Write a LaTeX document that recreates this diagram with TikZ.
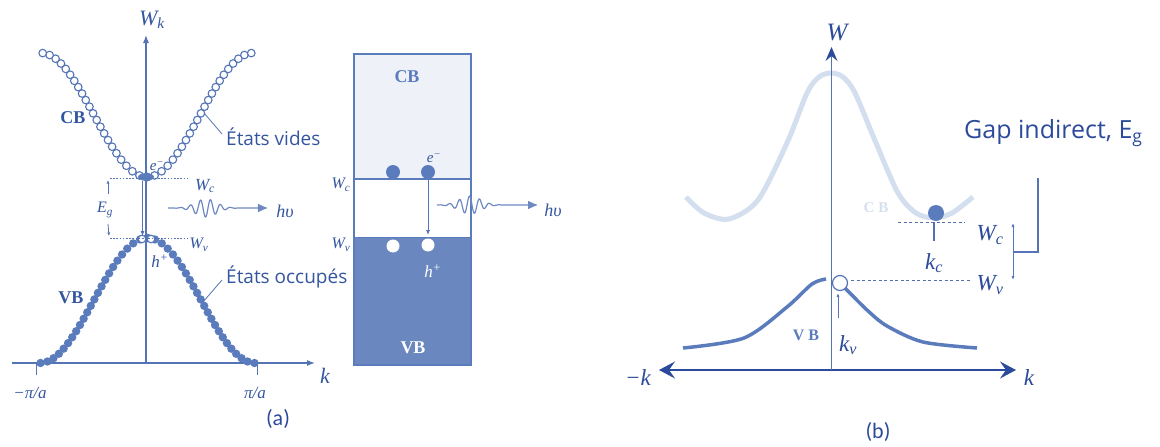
\documentclass[tikz,border=0pt]{standalone}
\usepackage{fontspec}
\setmainfont{Liberation Serif}
\newfontfamily\handfont{Open Sans}
\newfontfamily\capfont{Carlito}
\usetikzlibrary{arrows.meta}
\definecolor{navy}{HTML}{2B4A9B}
\definecolor{axblue}{HTML}{5474B6}
\definecolor{dotblue}{HTML}{5B7CBC}
\definecolor{cbfill}{HTML}{EEF2F8}
\definecolor{vbfill}{HTML}{6A88BF}
\definecolor{cbcurve}{HTML}{D3DEEE}
\definecolor{txtblue}{HTML}{34559F}
\definecolor{cblabel}{HTML}{D6E0EF}
\newcommand{\setfs}[1]{\fontsize{#1}{#1}\selectfont}
\begin{document}
\begin{tikzpicture}[x=1pt,y=-1pt,
  axline/.style={draw=axblue, line width=1.1pt},
  thinline/.style={draw=axblue, line width=0.8pt},
  dotline/.style={draw=axblue, line width=0.9pt, dash pattern=on 1.6pt off 1.6pt},
  dashline/.style={draw=navy!80, line width=1pt, dash pattern=on 3pt off 2.5pt},
  wave/.style={draw=axblue!85, line width=1.2pt},
  opendot/.style={draw=axblue, line width=1.1pt, fill=white},
  filldot/.style={fill=dotblue},
  lab/.style={text=txtblue, inner sep=0pt, font=\itshape\setfs{17}},
  blab/.style={text=txtblue, inner sep=0pt, font=\bfseries\setfs{18}},
  hand/.style={text=txtblue, inner sep=0pt, font=\handfont\setfs{19}, anchor=west},
  caplab/.style={text=navy, inner sep=0pt, font=\capfont\setfs{22}},
  baxis/.style={draw=navy, line width=1.3pt},
  blab2/.style={text=navy, inner sep=0pt, font=\itshape\setfs{23}},
]
\useasboundingbox[fill=white] (0,0) rectangle (1160,447);

% ================= (a) dispersion =================
\coordinate (kL) at (12,363);
\coordinate (kR) at (315,363);
\coordinate (wB) at (146,363);
\coordinate (wT) at (146,35);
\draw[axline,-{Latex[length=8pt,width=6pt]}] (kL) -- (kR);
\node[lab,font=\itshape\setfs{22}] (Wk) at (152,20) {W\textsubscript{k}};
\node[lab,font=\itshape\setfs{22}] (klab) at (325,376) {k};
\coordinate (t1a) at (36,363); \coordinate (t1b) at (36,375);
\coordinate (t2a) at (257,363); \coordinate (t2b) at (257,375);
\draw[thinline] (t1a) -- (t1b);
\draw[thinline] (t2a) -- (t2b);
\node[lab,font=\itshape\setfs{17}] (mpa) at (30,393) {−π/a};
\node[lab,font=\itshape\setfs{17}] (ppa) at (255,393) {π/a};

% CB open circles (equal arc spacing, mirrored)
\xdef\th{0}
\foreach \i in {1,...,40}{
  \ifdim\th pt<181pt
    \pgfmathsetmacro\ddx{\th/180*106}
    \pgfmathsetmacro\ppy{115+62*cos(\th)}
    \draw[opendot] (147-\ddx,\ppy) circle (3.8pt);
    \draw[opendot] (147+\ddx,\ppy) circle (3.8pt);
    \pgfmathsetmacro\nth{\th+7.6/106*180/sqrt(1+3.376*sin(\th)*sin(\th))}
    \xdef\th{\nth}
  \fi
}
% VB filled circles
\xdef\th{0}
\foreach \i in {1,...,40}{
  \ifdim\th pt<181pt
    \pgfmathsetmacro\ddx{\th/180*107.5}
    \pgfmathsetmacro\ppy{300.5-62.5*cos(\th)}
    \fill[filldot] (147.5-\ddx,\ppy) circle (4.2pt);
    \fill[filldot] (147.5+\ddx,\ppy) circle (4.2pt);
    \pgfmathsetmacro\nth{\th+7.4/107.5*180/sqrt(1+3.335*sin(\th)*sin(\th))}
    \xdef\th{\nth}
  \fi
}
\draw[axline,-{Latex[length=8pt,width=6pt]}] (wB) -- (wT);

% electron at CB min, holes at VB max
\fill[dotblue] (146,177) ellipse (8pt and 3.8pt);
\draw[opendot] (142,239) circle (3.8pt);
\draw[opendot] (151,239) circle (3.8pt);

% levels
\coordinate (wcL) at (110,178); \coordinate (wcR) at (190,178);
\coordinate (wvL) at (110,238); \coordinate (wvR) at (190,238);
\draw[dotline] (wcL) -- (wcR);
\draw[dotline] (wvL) -- (wvR);
\node[lab] (Wca) at (205,186) {W\textsubscript{c}};
\node[lab,font=\itshape\setfs{16}] (Wva) at (199,245) {W\textsubscript{v}};
\node[lab,font=\itshape\setfs{15}] (ea) at (157,166) {e\textsuperscript{−}};
\node[lab,font=\itshape\setfs{17}] (ha) at (160,261) {h\textsuperscript{+}};
% Eg
\coordinate (eg1) at (108,194); \coordinate (eg1t) at (108,180);
\coordinate (eg2) at (108,224); \coordinate (eg2t) at (109,236);
\draw[thinline,-{Latex[length=3.5pt,width=3pt]}] (eg1) -- (eg1t);
\draw[thinline,-{Latex[length=3.5pt,width=3pt]}] (eg2) -- (eg2t);
\node[lab,font=\itshape\setfs{16}] (Ega) at (105,210) {E\textsubscript{g}};
% transition
\coordinate (tra) at (142.5,181); \coordinate (trb) at (142.5,236);
\draw[thinline,-{Latex[length=5pt,width=4pt]}] (tra) -- (trb);
% photon
\draw[wave,-{Triangle[length=9pt,width=8pt]}] plot[domain=0:99,samples=220] ({\x+168},{208-9*exp(-((\x-38)/15)*((\x-38)/15))*sin(36*\x)});
\node[lab,font=\itshape\setfs{18}] (hva) at (285,211) {hυ};
% band names and comments
\node[blab] (CBa) at (73,118) {CB};
\node[blab] (VBa) at (71,298) {VB};
\node[hand] (vides) at (226,137) {États vides};
\node[hand] (occ) at (226,277) {États occupés};
\coordinate (vd0) at (222,134); \coordinate (vd1) at (204,113);
\coordinate (oc0) at (222,280); \coordinate (oc1) at (203,302);
\draw[thinline] (vd0) -- (vd1);
\draw[thinline] (oc0) -- (oc1);
\node[caplab] (capa) at (278,419) {(a)};

% ================= (a) band box =================
\fill[cbfill] (354,54) rectangle (471,179);
\fill[vbfill] (354,237) rectangle (471,365);
\draw[draw=dotblue, line width=1.2pt] (354,54) rectangle (471,365);
\draw[draw=dotblue, line width=1.2pt] (354,179) -- (471,179);
\draw[draw=dotblue, line width=1pt] (354,237) -- (471,237);
\node[blab,text=dotblue,font=\bfseries\setfs{18}] (CBb) at (407,77) {CB};
\node[blab,text=white,font=\bfseries\setfs{18}] (VBb) at (413,348) {VB};
\fill[dotblue] (393,172) circle (7pt);
\fill[dotblue] (428,172) circle (7pt);
\fill[white] (393,246) circle (6.5pt);
\fill[white] (428,245) circle (6.5pt);
\node[lab,font=\itshape\setfs{15}] (eb) at (434,158) {e\textsuperscript{−}};
\node[lab,text=white,font=\itshape\setfs{17}] (hb) at (433,271) {h\textsuperscript{+}};
\node[lab,font=\itshape\setfs{16}] (Wcb) at (341,185) {W\textsubscript{c}};
\node[lab,font=\itshape\setfs{16}] (Wvb) at (341,245) {W\textsubscript{v}};
\coordinate (trc) at (428,180); \coordinate (trd) at (428,235);
\draw[thinline,-{Latex[length=5pt,width=4pt]}] (trc) -- (trd);
\draw[wave,-{Triangle[length=9pt,width=8pt]}] plot[domain=0:100,samples=220] ({\x+437},{205-9*exp(-((\x-33)/15)*((\x-33)/15))*sin(36*\x)});
\node[lab,font=\itshape\setfs{18}] (hvb) at (553,210) {hυ};

% ================= (b) =================
\draw[draw=cbcurve, line width=5pt, line join=round] plot[smooth, tension=0.5] coordinates {(686,197) (704,213) (729,219) (758,200) (787,143) (807,93) (819,77) (831,73) (843,77) (855,93) (876,143) (898,193) (916,213) (934,218) (952,213) (973,197)};
\draw[draw=dotblue, line width=3.5pt] plot[smooth, tension=0.5] coordinates {(683,348) (744,338) (787,307) (812,284) (826,279)};
\draw[draw=dotblue, line width=3.5pt] plot[smooth, tension=0.5] coordinates {(845,288) (867,310) (887,326) (923,342) (977,348)};

\coordinate (bkL) at (659,370); \coordinate (bkR) at (1016,370);
\coordinate (bwB) at (831.5,370); \coordinate (bwT) at (831.5,47);
\draw[baxis,{Stealth[length=16pt,width=17pt,inset=6pt]}-{Stealth[length=16pt,width=17pt,inset=6pt]}] (bkL) -- (bkR);
\draw[axline,-{Stealth[length=14pt,width=12pt,inset=5pt,color=navy]}] (bwB) -- (bwT);
\node[blab2,font=\itshape\setfs{25}] (Wb) at (837,33) {W};
\node[blab2] (mk) at (638,378) {−k};
\node[blab2] (pk) at (1029,378) {k};

\draw[draw=axblue, line width=1.2pt, fill=white] (840,283) circle (7.5pt);
\fill[dotblue] (936,213) circle (8pt);
\coordinate (kcs1) at (934,222); \coordinate (kcs2) at (934,241);
\draw[draw=navy!80, line width=1.2pt] (kcs1) -- (kcs2);
\coordinate (bwc1) at (898,222); \coordinate (bwc2) at (965,222);
\coordinate (bwv1) at (851,280); \coordinate (bwv2) at (970,280);
\draw[dashline] (bwc1) -- (bwc2);
\draw[dashline] (bwv1) -- (bwv2);
\coordinate (kv1) at (838,318); \coordinate (kv2) at (838,293);
\draw[thinline,-{Latex[length=4pt,width=3pt]}] (kv1) -- (kv2);
\node[blab2] (kcb) at (934,263) {k\textsubscript{c}};
\node[blab2] (kvb) at (848,345) {k\textsubscript{v}};
\node[blab2] (Wcc) at (990,235) {W\textsubscript{c}};
\node[blab2] (Wvc) at (990,285) {W\textsubscript{v}};
\node[blab,text=cblabel,font=\bfseries\setfs{15}] (CBc) at (876,208) {C B};
\node[blab,text=dotblue,font=\bfseries\setfs{16}] (VBc) at (806,335) {V B};

\coordinate (ga1) at (1013,223); \coordinate (ga2) at (1013,280);
\draw[thinline,{Latex[length=4pt,width=3pt]}-{Latex[length=4pt,width=3pt]}] (ga1) -- (ga2);
\coordinate (br1) at (1013,252); \coordinate (br2) at (1038,252); \coordinate (br3) at (1038,178);
\draw[thinline, line width=1.1pt] (br1) -- (br2) -- (br3);
\node[hand,font=\handfont\setfs{25},text=navy] (gap) at (964,133) {Gap indirect, E\textsubscript{g}};
\node[caplab] (capb) at (878,432) {(b)};
\end{tikzpicture}
\end{document}
